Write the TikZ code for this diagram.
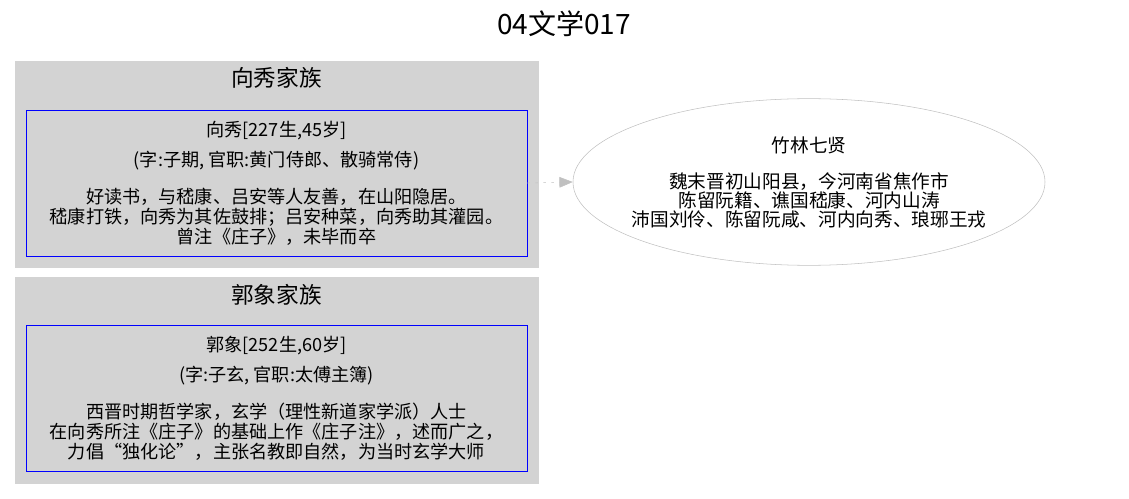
\documentclass[tikz,border=0pt]{standalone}
\usepackage{fontspec}
\setmainfont{Noto Sans CJK SC}
\usetikzlibrary{shapes}
\usetikzlibrary{positioning}
\usetikzlibrary{arrows.meta}
\definecolor{clustergray}{HTML}{D3D3D3}
\definecolor{edgegray}{HTML}{C0C0C0}

\tikzset{
	cluster/.style={fill=clustergray, draw=clustergray},
	person/.style={draw=blue, fill=clustergray, minimum width=375.75pt, minimum height=109.5pt,
		align=center, font=\fontsize{13.6pt}{14.8pt}\selectfont, inner sep=0pt},
	group/.style={ellipse, draw=edgegray, minimum width=354pt, minimum height=125pt,
		align=center, font=\fontsize{14pt}{14.2pt}\selectfont, inner xsep=-12pt, inner ysep=0pt},
	familylabel/.style={font=\fontsize{17pt}{20pt}\selectfont},
	link/.style={draw=edgegray, dash pattern=on 2pt off 4pt, -{Triangle[length=10pt, width=8pt, fill=edgegray]}}
}

\begin{document}
\begin{tikzpicture}[x=0.75pt, y=-0.75pt]
			\useasboundingbox (0, 0) rectangle (1129, 499);
			
			\node[font=\fontsize{21pt}{24pt}\selectfont] (title) at (564, 24) {04文学017};
			
			% 两个家族
			\draw[cluster] (15, 61) rectangle (538, 267);
			\draw[cluster] (15, 277) rectangle (538, 483);
			\node[familylabel] (xiufamily) at (276.5, 78) {向秀家族};
			\node[familylabel] (guofamily) at (276.5, 295) {郭象家族};
			
			\node[person] (xiu) at (276.5, 183) {向秀[227生,45岁]\\[8pt]
				(字:子期, 官职:黄门侍郎、散骑常侍)\\[13pt]
				好读书，与嵇康、吕安等人友善，在山阳隐居。\\
				嵇康打铁，向秀为其佐鼓排；吕安种菜，向秀助其灌园。\\
				曾注《庄子》，未毕而卒};
			\node[person] (guo) at (276.5, 398) {郭象[252生,60岁]\\[8pt]
				(字:子玄, 官职:太傅主簿)\\[13pt]
				西晋时期哲学家，玄学（理性新道家学派）人士\\
				在向秀所注《庄子》的基础上作《庄子注》，述而广之，\\
				力倡“独化论”，主张名教即自然，为当时玄学大师};
			
			\node[group] (qixian) at (809, 182) {竹林七贤\\[13pt]
				魏末晋初山阳县，今河南省焦作市\\
				陈留阮籍、谯国嵇康、河内山涛\\
				沛国刘伶、陈留阮咸、河内向秀、琅琊王戎};
			
			\draw[link] (xiu.east) -- (qixian.west);
		\end{tikzpicture}
\end{document}
